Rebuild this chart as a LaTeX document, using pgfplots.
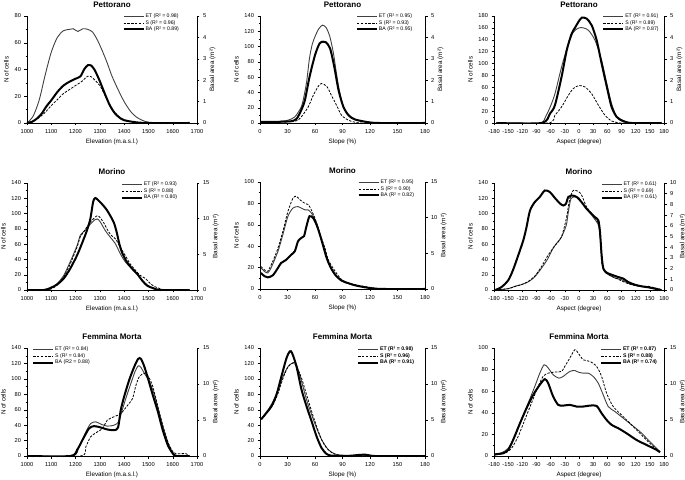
\documentclass[border=0pt]{standalone}
\usepackage{pgfplots}
\pgfplotsset{compat=1.18}
\usepackage{fontspec}
\setmainfont{Liberation Sans}
\pgfplotsset{
  base/.style={scale only axis, height=107pt, tick align=outside,
    axis line style={line width=0.5pt, black}, tick style={line width=0.4pt, black},
    major tick length=2.5pt, minor tick length=1.4pt,
    ticklabel style={font=\fontsize{5.7}{6}\selectfont},
    label style={font=\fontsize{6.3}{7}\selectfont},
    /pgf/number format/assume math mode=true, /pgf/number format/1000 sep={}, scaled ticks=false,
    enlargelimits=false},
  leftax/.style={base, axis x line*=bottom, axis y line*=left, ylabel={N of cells},
    minor y tick num=1, ylabel shift=-1pt,
    title style={font=\bfseries\fontsize{8}{9}\selectfont, yshift=-1pt},
    xlabel style={yshift=1pt}},
  rightax/.style={base, axis x line=none, axis y line*=right, ylabel={Basal area (m²)},
    ylabel shift=-3.5pt,
    legend style={draw=none, fill=none, font=\fontsize{5.2}{6}\selectfont,
      inner sep=0pt, row sep=-0.6pt, nodes={inner sep=0.9pt}},
    legend cell align=left,
    legend image code/.code={\draw[##1] (0pt,0pt) -- (20pt,0pt);}},
  elev/.style={width=170pt, xmin=1000, xmax=1700, xtick={1000,1100,...,1700}, minor x tick num=3},
  slope/.style={width=165pt, xmin=0, xmax=180, xtick={0,30,...,180}, minor x tick num=2},
  aspect/.style={width=170pt, xmin=-180, xmax=180, xtick={-180,-150,...,180}, minor x tick num=1},
  et/.style={black!75, line width=0.9pt, smooth, tension=0.45},
  sl/.style={black, line width=0.8pt, dash pattern=on 2.4pt off 1.4pt, smooth, tension=0.45},
  ba/.style={black, line width=2pt, smooth, tension=0.45},
}
\begin{document}
\begin{tikzpicture}[x=1pt,y=1pt]
\useasboundingbox (0,0) rectangle (685,479);
% ===== P1 Pettorano elevation
\begin{axis}[leftax, elev, at={(27pt,356pt)}, ymin=0, ymax=80, ytick={0,20,...,80},
  title={Pettorano}, xlabel={Elevation (m.a.s.l.)}]
\addplot[et] coordinates {(1000,0)(1025,5)(1050,17)(1075,36)(1100,53)(1125,64)(1150,69)(1175,70)(1190,70.5)(1210,68.5)(1230,70.5)(1250,70)(1270,68)(1290,62)(1310,54)(1330,45)(1350,35)(1375,25)(1400,16)(1425,9)(1450,4.5)(1475,2)(1500,0.6)(1550,0.2)(1600,0.1)(1670,0)};
\addplot[sl] coordinates {(1000,0)(1025,1.5)(1050,4)(1075,8)(1100,13)(1125,17.5)(1150,22)(1175,25)(1200,28)(1225,31)(1250,35)(1265,34.5)(1280,32)(1300,28)(1320,21)(1340,14)(1360,8)(1380,4.5)(1400,2.5)(1425,1)(1450,0.3)(1500,0)(1670,0)};
\end{axis}
\begin{axis}[rightax, elev, at={(27pt,356pt)}, ymin=0, ymax=5, ytick={0,1,...,5}, minor y tick num=4,
  legend style={at={(0.9,1.03)}, anchor=north east}]
\addlegendimage{et}\addlegendentry{ET (R² = 0.98)}
\addlegendimage{sl}\addlegendentry{S (R² = 0.96)}
\addplot[ba] coordinates {(1000,0)(1020,0.05)(1040,0.2)(1060,0.43)(1080,0.78)(1100,1.06)(1125,1.45)(1150,1.75)(1175,1.93)(1200,2.07)(1220,2.18)(1235,2.5)(1250,2.7)(1265,2.68)(1280,2.45)(1300,1.95)(1320,1.38)(1340,0.85)(1360,0.48)(1380,0.26)(1400,0.13)(1450,0.03)(1500,0)(1670,0)};
\addlegendentry{BA (R² = 0.89)}
\end{axis}
% ===== P2 Pettorano slope
\begin{axis}[leftax, slope, at={(260pt,356pt)}, ymin=0, ymax=140, ytick={0,20,...,140},
  title={Pettorano}, xlabel={Slope (\%)}]
\addplot[et] coordinates {(1,1.5)(10,1.5)(20,2)(30,3.5)(38,8)(45,21)(48,35)(51,55)(54,85)(57,103)(60,113)(64,123)(68,128)(72,125)(76,114)(80,92)(83,68)(86,46)(90,25)(95,12)(100,6)(110,2.6)(120,1)(135,0.3)(150,0)(180,0)};
\addplot[sl] coordinates {(1,1)(15,1)(30,1.5)(40,3)(45,8)(52.6,21)(58,36)(63.6,48)(67,51.6)(72.8,48)(78,36)(84,22)(89,10)(96.7,3.5)(104,0.9)(115,0)(180,0)};
\end{axis}
\begin{axis}[rightax, slope, at={(260pt,356pt)}, ymin=0, ymax=5, ytick={0,1,...,5}, minor y tick num=4,
  legend style={at={(0.93,1.03)}, anchor=north east}]
\addlegendimage{et}\addlegendentry{ET (R² = 0.95)}
\addlegendimage{sl}\addlegendentry{S (R² = 0.93)}
\addplot[ba] coordinates {(1,0.05)(15,0.05)(30,0.07)(35,0.09)(40,0.2)(45,0.6)(49,1.07)(54,2.15)(60,3.17)(65,3.72)(69,3.8)(72,3.77)(76.5,3.48)(81,2.63)(85.7,1.53)(91,0.75)(96.7,0.36)(104,0.16)(119,0.03)(130,0)(180,0)};
\addlegendentry{BA (R² = 0.95)}
\end{axis}
% ===== P3 Pettorano aspect
\begin{axis}[leftax, aspect, at={(494pt,356pt)}, ymin=0, ymax=180, ytick={0,20,...,180},
  title={Pettorano}, xlabel={Aspect (degree)}]
\addplot[et] coordinates {(-175,0)(-120,0)(-80,0)(-70,12)(-61,27)(-51,49)(-37,94)(-22.6,133)(-12,153)(0,160)(9,160)(20,156)(34,139)(48,105)(59,66)(69,32.5)(80,10)(90,3.4)(104,1)(120,0)(175,0)};
\addplot[sl] coordinates {(-175,0)(-65,0)(-51,13)(-37,27)(-22.6,46.5)(-12,58)(0,63)(12.7,60.6)(27,49)(41,30)(55,13)(69,3.4)(83,0.5)(95,0)(175,0)};
\end{axis}
\begin{axis}[rightax, aspect, at={(494pt,356pt)}, ymin=0, ymax=5, ytick={0,1,...,5}, minor y tick num=4,
  legend style={at={(0.975,1.03)}, anchor=north east}]
\addlegendimage{et}\addlegendentry{ET (R² = 0.91)}
\addlegendimage{sl}\addlegendentry{S (R² = 0.89)}
\addplot[ba] coordinates {(-175,0)(-79,0)(-61.5,0.44)(-51,0.83)(-37,2.15)(-26,3.4)(-15.6,4.17)(-8.5,4.45)(-1.4,4.72)(5.7,4.92)(16,4.88)(27,4.56)(37.5,3.86)(48,2.77)(59,1.68)(69,0.75)(80,0.28)(94,0.09)(112,0)(175,0)};
\addlegendentry{BA (R² = 0.87)}
\end{axis}
% ===== P4 Morino elevation
\begin{axis}[leftax, elev, at={(27pt,189pt)}, ymin=0, ymax=140, ytick={0,20,...,140},
  title={Morino}, xlabel={Elevation (m.a.s.l.)}]
\addplot[et] coordinates {(1000,0)(1080,0.3)(1096,1.7)(1123,8)(1151,19)(1178,37)(1206,58)(1220,72)(1240,78)(1260,86)(1280,92)(1290,93)(1302,89)(1322,78)(1343,69)(1364,60.6)(1384,47.5)(1405,36.6)(1425,30)(1446,23.5)(1467,15.7)(1488,8.3)(1508,4)(1535,0.9)(1576,0)(1670,0)};
\addplot[sl] coordinates {(1000,0)(1080,0.3)(1100,1.5)(1123,6)(1151,17)(1178,34)(1206,56)(1220,70)(1233,76)(1261,89)(1288,97)(1300,95)(1316,88)(1329,80)(1345,72)(1364,67)(1384,56)(1405,45)(1425,34)(1446,26)(1467,19)(1488,15)(1501,10.5)(1522,5)(1549,1.7)(1576,0)(1670,0)};
\end{axis}
\begin{axis}[rightax, elev, at={(27pt,189pt)}, ymin=0, ymax=15, ytick={0,5,10,15}, minor y tick num=4,
  legend style={at={(0.89,1.02)}, anchor=north east}]
\addlegendimage{et}\addlegendentry{ET (R² = 0.93)}
\addlegendimage{sl}\addlegendentry{S (R² = 0.88)}
\addplot[ba] coordinates {(1000,0)(1069,0)(1096,0.28)(1123,0.75)(1151,1.6)(1178,3.0)(1206,4.85)(1226,6.5)(1247,8.36)(1261,10)(1272,12.3)(1281,12.9)(1302,12.3)(1329,11.2)(1357,9.5)(1370,8.0)(1380,6.5)(1392,5.2)(1410,4.0)(1430,3.1)(1455,2.2)(1475,1.3)(1495,0.6)(1520,0.25)(1550,0)(1670,0)};
\addlegendentry{BA (R² = 0.80)}
\end{axis}
% ===== P5 Morino slope
\begin{axis}[leftax, slope, at={(260pt,190pt)}, ymin=0, ymax=100, ytick={0,20,...,100},
  title={Morino}, xlabel={Slope (\%)}]
\addplot[et] coordinates {(1,19.6)(4.8,16.5)(8.4,15)(12,19.6)(19.5,35)(25,51)(30.5,68)(36,75.7)(41.5,77)(45,75.7)(49,74)(52.5,74)(56,71)(60,65)(63.5,57)(67,46)(71,35)(74.6,26)(78,18)(85.6,10)(93,6.5)(100,4)(111,2.2)(122,0.9)(133,0)(180,0)};
\addplot[sl] coordinates {(1,21)(4.8,18)(8.4,16.5)(14,26)(19.5,38)(25,54)(30.5,72.6)(36,85)(39.7,86.6)(43.4,83.5)(49,80)(52.5,79)(56,74)(60,66)(63.5,57)(67,47.7)(71,38)(74.6,27)(82,16.5)(89,8.7)(96.6,5.6)(104,4)(115,2.2)(126,0.6)(137,0)(180,0)};
\end{axis}
\begin{axis}[rightax, slope, at={(260pt,190pt)}, ymin=0, ymax=15, ytick={0,5,10,15}, minor y tick num=4,
  legend style={at={(0.94,1.03)}, anchor=north east}]
\addlegendimage{et}\addlegendentry{ET (R² = 0.95)}
\addlegendimage{sl}\addlegendentry{S (R² = 0.90)}
\addplot[ba] coordinates {(1,2.25)(4.8,1.8)(8.4,1.63)(14,1.92)(19.5,2.94)(23,3.64)(28.7,4.1)(34,4.8)(38,5.3)(41.5,6.7)(45,7.15)(48,7.4)(50.7,8.8)(54,10.2)(58,9.95)(61.7,9.0)(65.4,7.6)(69,6.0)(72.7,4.35)(76.4,3.2)(82,2.0)(89,1.17)(96.6,0.8)(104,0.51)(115,0.23)(126,0.05)(137,0)(180,0)};
\addlegendentry{BA (R² = 0.82)}
\end{axis}
% ===== P6 Morino aspect
\begin{axis}[leftax, aspect, at={(494pt,189pt)}, ymin=0, ymax=140, ytick={0,20,...,140},
  title={Morino}, xlabel={Aspect (degree)}]
\addplot[et] coordinates {(-177,0)(-150,1.7)(-136,4.8)(-122,7)(-108,10.5)(-94,17)(-80,28)(-66,41)(-55.5,54)(-48,60.6)(-37.5,69)(-27,84.6)(-22.6,102)(-17,119.5)(-8.5,121.7)(0,120.4)(5.6,115)(16,106)(27,97.7)(37.5,89)(42.4,82)(46.7,58)(49.5,32)(55,23.5)(65.8,19)(76,15.7)(90,13.5)(104,9)(118,6)(140,4)(161,2.6)(175,0.4)};
\addplot[sl] coordinates {(-177,0)(-150,1.7)(-136,4.5)(-122,7)(-108,11)(-94,18)(-80,30)(-66,45)(-51,58)(-37.5,69)(-27,93)(-21,115)(-17,124)(-12,130.4)(-1.4,129)(5.6,124)(16,108.6)(27,100)(37.5,91)(42.4,84)(46,60)(48,36.6)(55,23.5)(69,18)(83,14)(104,8.3)(125,5.2)(147,4.8)(161,2.6)(175,0.4)};
\end{axis}
\begin{axis}[rightax, aspect, at={(494pt,189pt)}, ymin=0, ymax=10, ytick={0,1,...,10},
  legend style={at={(0.965,1.02)}, anchor=north east}]
\addlegendimage{et}\addlegendentry{ET (R² = 0.61)}
\addlegendimage{sl}\addlegendentry{S (R² = 0.69)}
\addplot[ba] coordinates {(-177,0)(-164,0.28)(-150,0.9)(-140,1.84)(-129,3.2)(-118,4.64)(-111,5.9)(-104,7.4)(-94,8.2)(-83,8.7)(-72.5,9.3)(-62,9.16)(-51,8.6)(-40,8.07)(-33,7.9)(-27.6,8.07)(-22.6,8.7)(-15.6,8.84)(-5,8.7)(5.6,8.2)(16,7.6)(27,7.1)(34,6.8)(41,6.5)(44.5,5.4)(48,3.2)(51.6,2.0)(58.6,1.62)(69,1.43)(83,1.21)(94,1.06)(104,0.75)(118,0.5)(133,0.34)(147,0.25)(161,0.12)(171,0)};
\addlegendentry{BA (R² = 0.61)}
\end{axis}
% ===== P7 Femmina Morta elevation
\begin{axis}[leftax, elev, at={(27pt,23pt)}, height=108pt, ymin=0, ymax=140, ytick={0,20,...,140},
  title={Femmina Morta}, xlabel={Elevation (m.a.s.l.)}]
\addplot[et] coordinates {(1000,0)(1186,0)(1214,11.7)(1242,31)(1262,42)(1283,44.3)(1304,41.3)(1331,38.7)(1359,40)(1378,44.3)(1390,57.4)(1407,74.7)(1428,94.3)(1445,109.5)(1458,117)(1469,115)(1483,107.3)(1504,96.5)(1525,79)(1545,55)(1566,31.3)(1587,11.7)(1608,1.7)(1635,0)(1670,0)};
\addplot[sl] coordinates {(1000,0)(1221,0)(1242,11.7)(1262,24.8)(1290,31.3)(1311,35.6)(1331,46.5)(1359,51)(1384,54.3)(1400,60)(1420,68)(1435,74.7)(1449,92)(1463,103)(1483,107.3)(1500,103)(1518,90)(1539,63.9)(1559,40)(1580,18.3)(1601,5.2)(1614,3)(1656,3)(1663,0)(1670,0)};
\end{axis}
\begin{axis}[rightax, elev, at={(27pt,23pt)}, height=108pt, ymin=0, ymax=15, ytick={0,5,10,15}, minor y tick num=4,
  legend style={at={(0.03,1.02)}, anchor=north west}]
\addlegendimage{et}\addlegendentry{ET (R² = 0.84)}
\addlegendimage{sl}\addlegendentry{S (R² = 0.84)}
\addplot[ba] coordinates {(1000,0)(1179,0)(1207,0.89)(1228,2.19)(1255,3.81)(1276,4.15)(1304,3.96)(1331,3.68)(1359,3.59)(1375,3.96)(1386,6.37)(1400,8.25)(1421,10.57)(1442,12.43)(1458,13.5)(1469,13.5)(1483,12.43)(1500,10.57)(1518,8.46)(1539,6.15)(1559,3.59)(1580,1.49)(1601,0.32)(1614,0)(1670,0)};
\addlegendentry{BA (R2 = 0.88)}
\end{axis}
% ===== P8 Femmina Morta slope
\begin{axis}[leftax, slope, at={(260pt,23pt)}, height=108pt, ymin=0, ymax=140, ytick={0,20,...,140},
  title={Femmina Morta}, xlabel={Slope (\%)}]
\addplot[et] coordinates {(1.5,48)(8.8,60)(14.3,70.9)(19.8,86)(25.2,103.3)(30.7,116)(36.2,121)(39.8,118.4)(45.3,96.8)(50.8,73)(56.3,53.6)(61.7,36.3)(67.2,21.2)(74.5,8.2)(81.8,2.6)(89,0.9)(100,0.5)(120,0.3)(130,0)(180,0)};
\addplot[sl] coordinates {(1.5,47)(8.8,58)(14.3,66.6)(19.8,81.7)(25.2,101)(30.7,116)(36.2,120.6)(39.8,116)(45.3,101)(50.8,79.5)(56.3,58)(61.7,38.5)(67.2,21.2)(72.7,10.4)(80,3)(89,0.9)(100,0.3)(120,0.2)(130,0)(180,0)};
\end{axis}
\begin{axis}[rightax, slope, at={(260pt,23pt)}, height=108pt, ymin=0, ymax=15, ytick={0,5,10,15}, minor y tick num=4,
  legend style={at={(0.94,1.02)}, anchor=north east, font=\bfseries\fontsize{5.2}{6}\selectfont}]
\addlegendimage{et}\addlegendentry{ET (R² = 0.98)}
\addlegendimage{sl}\addlegendentry{S (R² = 0.96)}
\addplot[ba] coordinates {(1.5,5.14)(7,5.98)(12.5,6.9)(18,8.52)(23.4,11.07)(28.9,13.6)(32.5,14.54)(35,14.3)(39.8,12.45)(45.3,9.21)(50.8,6.9)(56.3,4.82)(61.7,2.73)(67.2,1.11)(72.7,0.28)(78,0.05)(90,0)(100,0.05)(108,0.15)(115,0.18)(121,0.05)(125,0)(180,0)};
\addlegendentry{BA (R² = 0.91)}
\end{axis}
% ===== P9 Femmina Morta aspect
\begin{axis}[leftax, aspect, at={(494pt,23pt)}, height=108pt, ymin=0, ymax=100, ytick={0,20,...,100},
  title={Femmina Morta}, xlabel={Aspect (degree)}]
\addplot[et] coordinates {(-178.5,1.5)(-164,3)(-150,7.1)(-136,18)(-122,33.4)(-107.8,48.9)(-93.6,64.4)(-83,76.7)(-73.8,84.5)(-65,81.4)(-54.8,75.2)(-42.7,72.1)(-33.5,73.7)(-19.4,78.3)(-8.8,79.2)(-1.7,77.7)(8.9,76.7)(19.5,76.7)(30,73.7)(40.7,67.5)(51.3,56.6)(61.9,45.8)(76,41.2)(93.7,35)(111.4,28.8)(129,22.6)(146.8,14.8)(164.5,7.1)(171.5,4)};
\addplot[sl] coordinates {(-178.5,0.9)(-157,2.5)(-143,7.1)(-129,18)(-114.9,33.4)(-100.7,48.9)(-86.6,64.4)(-76,73.7)(-65.4,76.7)(-51.2,77.7)(-37,78.3)(-30,83)(-19.4,90.7)(-8.8,98.4)(-1.7,95.3)(8.9,89.1)(23,87.6)(37.2,83)(47.8,73.7)(58.4,58.2)(72.5,45.8)(93.7,36.5)(115,27.2)(136,17.9)(157.4,8.7)(171.5,4)};
\end{axis}
\begin{axis}[rightax, aspect, at={(494pt,23pt)}, height=108pt, ymin=0, ymax=15, ytick={0,5,10,15}, minor y tick num=4,
  legend style={at={(0.965,1.02)}, anchor=north east, font=\bfseries\fontsize{5.2}{6}\selectfont}]
\addlegendimage{et}\addlegendentry{ET (R² = 0.87)}
\addlegendimage{sl}\addlegendentry{S (R² = 0.88)}
\addplot[ba] coordinates {(-178.5,0.23)(-161,0.38)(-150,0.84)(-139.6,2.22)(-125,4.55)(-111,6.65)(-97,8.49)(-83,9.89)(-72.4,10.68)(-65.4,10.13)(-54.8,8.27)(-44,7.1)(-33.5,7.0)(-19.4,7.1)(-5.3,6.87)(8.9,6.87)(23,7.0)(37.2,6.96)(47.8,5.94)(58.4,5.01)(69,4.32)(83,3.86)(100.8,3.15)(122,2.22)(143.2,1.53)(164.5,0.84)(171.5,0.51)};
\addlegendentry{BA (R² = 0.74)}
\end{axis}
\end{tikzpicture}
\end{document}
